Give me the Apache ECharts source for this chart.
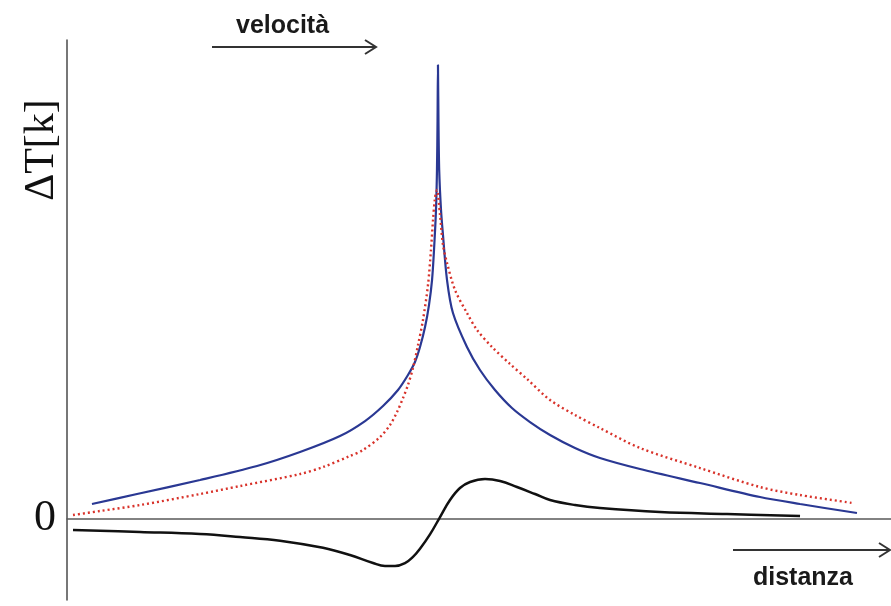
<!DOCTYPE html>
<html>
<head>
<meta charset="utf-8">
<script src="https://cdn.jsdelivr.net/npm/echarts@6/dist/echarts.min.js"></script>
<style>
  html, body { margin: 0; padding: 0; background: #fff; }
  #chart { width: 891px; height: 606px; }
</style>
</head>
<body>
<div id="chart"></div>
<script>
// Distance axis: 0..100 (arbitrary units), ΔT axis: 0..100 (arbitrary units)
const yTickLabels = ['0'];
const yAxisTitle = 'ΔT[k]';
const topArrowLabel = 'velocità';
const bottomArrowLabel = 'distanza';

// Blue solid curve [distance, ΔT]
const blueCurve = [
  [3.03, 3.05], [8.50, 5.14], [16.14, 8.07], [23.06, 10.99], [28.28, 13.92], [33.13, 17.26],
  [36.17, 20.39], [38.35, 23.53], [40.17, 26.87], [41.38, 30.0], [42.23, 32.72], [42.84, 35.85],
  [43.45, 40.03], [43.93, 44.62], [44.30, 49.85], [44.54, 56.12], [44.78, 64.48], [44.90, 72.84],
  [44.97, 83.28], [45.02, 94.78], [45.08, 83.28], [45.17, 72.84], [45.39, 64.48], [45.63, 59.25],
  [46.12, 49.85], [46.84, 42.96], [48.54, 35.86], [50.12, 31.05], [51.94, 26.87], [54.00, 23.11],
  [56.19, 20.18], [58.62, 17.47], [61.65, 14.75], [64.68, 12.66], [69.54, 10.36], [76.82, 7.44],
  [84.10, 4.51], [88.96, 3.05], [95.87, 1.17]
];

// Red dotted curve [distance, ΔT]
const redCurve = [
  [0.73, 0.75], [4.00, 1.59], [8.86, 2.84], [16.14, 5.14], [21.00, 6.81], [28.28, 9.32],
  [31.07, 10.78], [34.34, 13.08], [35.92, 14.33], [37.99, 17.05], [39.20, 19.56], [40.05, 22.27],
  [40.78, 25.20], [41.38, 27.92], [41.99, 31.47], [42.60, 36.27], [43.20, 41.49], [43.81, 48.81],
  [44.17, 56.12], [44.42, 62.39], [44.66, 66.99], [44.90, 68.65], [45.27, 63.44], [45.63, 57.17],
  [46.12, 53.41], [47.09, 47.77], [48.54, 42.96], [49.76, 39.41], [51.58, 35.86], [53.76, 32.31],
  [55.83, 29.17], [58.62, 24.78], [61.65, 21.65], [64.68, 18.93], [69.54, 14.75], [76.82, 10.57],
  [84.10, 6.60], [88.96, 4.93], [95.39, 3.26]
];

// Black solid curve [distance, ΔT]
const blackCurve = [
  [0.73, -2.38], [8.86, -2.8], [16.14, -3.22], [21.0, -3.84], [25.85, -4.6], [31.07, -6.1],
  [34.34, -7.61], [37.14, -9.28], [38.59, -9.9], [39.81, -9.9], [41.02, -9.3], [41.99, -8.0],
  [42.84, -6.3], [44.05, -3.3], [45.27, 0.33], [46.48, 3.89], [47.69, 6.39], [48.91, 7.65],
  [50.73, 8.27], [52.55, 7.86], [54.61, 6.6], [56.8, 5.14], [58.62, 3.89], [61.65, 2.84],
  [64.68, 2.21], [71.97, 1.38], [80.1, 0.96], [88.96, 0.54]
];

const chart = echarts.init(document.getElementById('chart'), null, { renderer: 'canvas' });

const arrowStroke = '#333';
const option = {
  animation: false,
  backgroundColor: '#fff',
  grid: { left: 67, right: 0, top: 40, bottom: 6, containLabel: false },
  xAxis: {
    type: 'value', min: 0, max: 100,
    axisLine: { show: true, onZero: true, lineStyle: { color: '#5a5a5a', width: 1.5 } },
    axisTick: { show: false }, axisLabel: { show: false }, splitLine: { show: false }
  },
  yAxis: {
    type: 'value', min: -17, max: 100,
    axisLine: { show: true, lineStyle: { color: '#4a4a4a', width: 1.5 } },
    axisTick: { show: false }, splitLine: { show: false },
    axisLabel: {
      show: true, margin: 11,
      formatter: v => (yTickLabels.indexOf(String(v)) >= 0 ? String(v) : ''),
      fontFamily: '"Liberation Serif", "DejaVu Serif", serif', fontSize: 44, color: '#111',
      padding: [12, 0, 0, 0]
    }
  },
  series: [
    { type: 'line', data: blackCurve, showSymbol: false, smooth: 0.4,
      lineStyle: { color: '#111', width: 2.5 }, z: 2 },
    { type: 'line', data: blueCurve, showSymbol: false, smooth: 0.3,
      lineStyle: { color: '#2a3893', width: 2.2 }, z: 3 },
    { type: 'line', data: redCurve, showSymbol: false, smooth: 0.3,
      lineStyle: { color: '#d8322a', width: 2.4, type: [2, 3] }, z: 4 }
  ],
  graphic: [
    { type: 'text', x: 42, y: 150, rotation: Math.PI / 2,
      style: { text: yAxisTitle, font: '42px "Liberation Serif", "DejaVu Serif", serif',
               fill: '#111', align: 'center', verticalAlign: 'middle' } },
    { type: 'text', x: 236, y: 26,
      style: { text: topArrowLabel, font: 'bold 25px "Liberation Sans", Arial, sans-serif',
               fill: '#1a1a1a', align: 'left', verticalAlign: 'middle' } },
    { type: 'line', shape: { x1: 212, y1: 47, x2: 375, y2: 47 },
      style: { stroke: arrowStroke, lineWidth: 2 } },
    { type: 'polyline', shape: { points: [[365, 40], [376, 47], [365, 54]] },
      style: { stroke: arrowStroke, lineWidth: 2, fill: null } },
    { type: 'text', x: 753, y: 578,
      style: { text: bottomArrowLabel, font: 'bold 25px "Liberation Sans", Arial, sans-serif',
               fill: '#1a1a1a', align: 'left', verticalAlign: 'middle' } },
    { type: 'line', shape: { x1: 733, y1: 550, x2: 889, y2: 550 },
      style: { stroke: arrowStroke, lineWidth: 2 } },
    { type: 'polyline', shape: { points: [[879, 543], [890, 550], [879, 557]] },
      style: { stroke: arrowStroke, lineWidth: 2, fill: null } }
  ]
};
chart.setOption(option);
</script>
</body>
</html>
